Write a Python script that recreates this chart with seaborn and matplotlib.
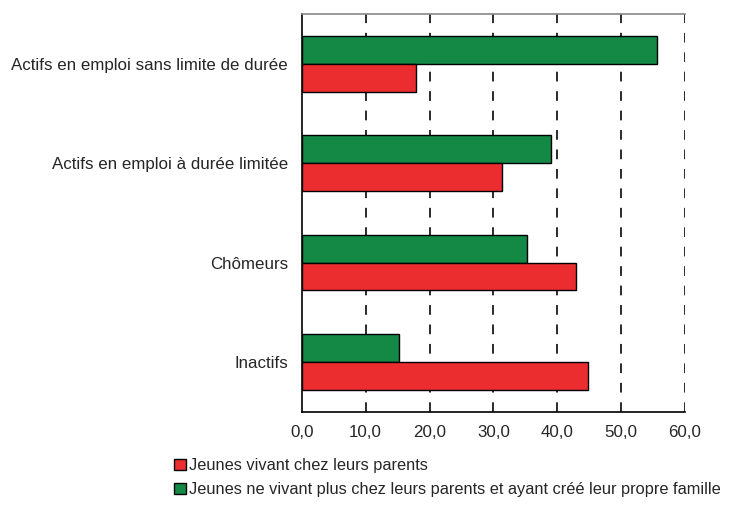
import pandas as pd
import seaborn as sns
import matplotlib.pyplot as plt
from matplotlib.patches import Patch

# Values (%)
categories = ["Actifs en emploi sans limite de durée",
              "Actifs en emploi à durée limitée",
              "Chômeurs",
              "Inactifs"]
chez_parents = [17.9, 31.3, 43.0, 44.9]
propre_famille = [55.7, 39.0, 35.2, 15.2]

lab_red = "Jeunes vivant chez leurs parents"
lab_green = "Jeunes ne vivant plus chez leurs parents et ayant créé leur propre famille"
xticks = [0, 10, 20, 30, 40, 50, 60]

df = pd.DataFrame({
    "categorie": categories * 2,
    "valeur": propre_famille + chez_parents,
    "groupe": [lab_green] * 4 + [lab_red] * 4,
})

sns.set_style("white")
plt.rcParams["font.family"] = ["Liberation Sans", "DejaVu Sans"]

colors = {lab_green: "#138945", lab_red: "#ec2d2f"}

fig = plt.figure(figsize=(7.38, 5.05), dpi=100)
ax = fig.add_axes([0.409, 0.185, 0.519, 0.787])

sns.barplot(data=df, y="categorie", x="valeur", hue="groupe",
            hue_order=[lab_green, lab_red], palette=colors, orient="h",
            width=0.56, edgecolor="black", linewidth=1.0, saturation=1,
            legend=False, ax=ax, zorder=3)

ax.set_xlim(0, 60)
ax.set_ylim(3.5, -0.5)
ax.set_xticks(xticks)
ax.set_xticklabels([f"{t:.1f}".replace(".", ",") for t in xticks], fontsize=12.2)
ax.set_xlabel("")
ax.set_ylabel("")
ax.tick_params(axis="y", length=0, labelsize=12.2, pad=10)
ax.set_yticks([-0.5, 0.5, 1.5, 2.5, 3.5], minor=True)
ax.tick_params(axis="y", which="minor", length=6, width=1.2, color="black", direction="out")
ax.tick_params(axis="x", length=6, width=1.2, color="black", direction="out", pad=4)

for t in xticks[1:]:
    ax.axvline(t, color="#2a2a2a", linestyle=(0, (5, 5)), linewidth=1.4, zorder=1)

for s in ["left", "bottom"]:
    ax.spines[s].set_color("black")
    ax.spines[s].set_linewidth(1.2)
ax.spines["top"].set_color("#888888")
ax.spines["top"].set_linewidth(1.2)
ax.spines["right"].set_visible(False)

handles = [Patch(facecolor=colors[lab_red], edgecolor="black", label=lab_red),
           Patch(facecolor=colors[lab_green], edgecolor="black", label=lab_green)]
fig.legend(handles=handles, loc="upper left", bbox_to_anchor=(0.236, 0.093),
           frameon=False, fontsize=11.8, handlelength=0.7, handleheight=0.7,
           handletextpad=0.2, labelspacing=0.55, borderaxespad=0, borderpad=0)

fig.savefig("out.png", dpi=100)
